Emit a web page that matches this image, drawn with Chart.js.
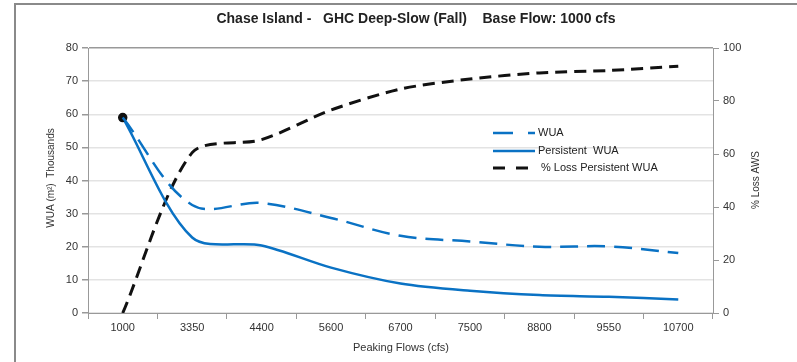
<!DOCTYPE html>
<html>
<head>
<meta charset="utf-8">
<script src="https://cdn.jsdelivr.net/npm/chart.js@4/dist/chart.umd.min.js"></script>
<style>
  html, body { margin: 0; padding: 0; background: #fff; }
  #wrap { position: relative; width: 797px; height: 362px; }
  #frame { position: absolute; left: 14px; top: 3px; right: 0; bottom: 0;
           border-left: 2px solid #8a8a8a; border-top: 2px solid #8a8a8a; }
  canvas { position: absolute; left: 0; top: 0; }
</style>
</head>
<body>
<div id="wrap">
  <div id="frame"></div>
  <canvas id="grafico" width="797" height="362"></canvas>
</div>
<script>
// datos
const flujos = ["1000", "3350", "4400", "5600", "6700", "7500", "8800", "9550", "10700"];
const wua = [59, 32.6, 33.2, 28.7, 23.3, 21.6, 20, 20.1, 18.1];
const wuaPersistente = [59, 22.8, 20.4, 13.7, 8.9, 6.7, 5.4, 4.9, 4.1];
const perdidaPct = [0, 60.5, 65.4, 76.6, 84.5, 88.3, 90.6, 91.5, 93.1];

const azul = "#0a72c4";
const fuente = "'Liberation Sans', Arial, sans-serif";

// titulo, leyenda y titulos de ejes
const textos = {
  id: "textos",
  afterDraw(chart) {
    const ctx = chart.ctx;
    ctx.save();
    ctx.fillStyle = "#222";
    ctx.textBaseline = "middle";
    ctx.textAlign = "center";
    ctx.font = "bold 14px " + fuente;
    ctx.fillText("Chase Island -   GHC Deep-Slow (Fall)    Base Flow: 1000 cfs", 416, 19);

    ctx.font = "11px " + fuente;
    ctx.fillStyle = "#333";
    ctx.fillText("Peaking Flows (cfs)", 401, 348);

    ctx.save();
    ctx.translate(51, 178);
    ctx.rotate(-Math.PI / 2);
    ctx.font = "10px " + fuente;
    ctx.fillText("WUA (m\u00b2)  Thousands", 0, 0);
    ctx.restore();

    ctx.save();
    ctx.translate(756, 180);
    ctx.rotate(-Math.PI / 2);
    ctx.font = "10px " + fuente;
    ctx.fillText("% Loss AWS", 0, 0);
    ctx.restore();

    // leyenda
    const items = [
      { t: "WUA", c: azul, d: [20, 15, 8, 0], y: 133, w: 2.5 },
      { t: "Persistent  WUA", c: azul, d: [], y: 151, w: 2.5 },
      { t: "% Loss Persistent WUA", c: "#111", d: [12, 11], y: 168, w: 3 }
    ];
    items.forEach(it => {
      ctx.beginPath();
      ctx.setLineDash(it.d);
      ctx.strokeStyle = it.c;
      ctx.lineWidth = it.w;
      ctx.moveTo(493, it.y);
      ctx.lineTo(535, it.y);
      ctx.stroke();
      ctx.setLineDash([]);
      ctx.textAlign = "left";
      ctx.font = "11px " + fuente;
      ctx.fillStyle = "#222";
      ctx.fillText(it.t, it.t[0] === "%" ? 541 : 538, it.y);
    });
    ctx.restore();
  }
};

new Chart(document.getElementById("grafico"), {
  type: "line",
  data: {
    labels: flujos,
    datasets: [
      {
        label: "WUA",
        data: wua,
        borderColor: azul,
        borderWidth: 2.5,
        borderDash: [18, 9],
        tension: 0.35,
        pointRadius: 0,
        yAxisID: "y"
      },
      {
        label: "Persistent  WUA",
        data: wuaPersistente,
        borderColor: azul,
        borderWidth: 2.5,
        tension: 0.3,
        pointRadius: [3.5, 0, 0, 0, 0, 0, 0, 0, 0],
        pointBackgroundColor: "#111",
        pointBorderColor: "#111",
        yAxisID: "y"
      },
      {
        label: "% Loss Persistent WUA",
        data: perdidaPct,
        borderColor: "#111",
        borderWidth: 3,
        borderDash: [12, 7],
        tension: 0.28,
        pointRadius: 0,
        yAxisID: "y1"
      }
    ]
  },
  options: {
    responsive: false,
    animation: false,
    layout: { padding: { top: 48, left: 0, right: 0, bottom: 0 } },
    plugins: {
      legend: { display: false },
      tooltip: { enabled: false }
    },
    scales: {
      x: {
        offset: true,
        grid: { offset: true, drawOnChartArea: false, tickLength: 6, tickColor: "#999" },
        border: { color: "#999", width: 1 },
        ticks: { color: "#333", font: { size: 11, family: fuente }, padding: 2, maxRotation: 0 },
        afterFit(s) { s.height = 49; }
      },
      y: {
        position: "left",
        min: 0, max: 80,
        ticks: { stepSize: 10, color: "#333", font: { size: 11, family: fuente }, padding: 4 },
        grid: {
          color: c => c.tick && c.tick.value === 80 ? "#999" : "#e3e3e3",
          lineWidth: 1.5,
          tickLength: 6,
          tickColor: "#999"
        },
        border: { color: "#999", width: 1 },
        afterFit(s) { s.width = 88; }
      },
      y1: {
        position: "right",
        min: 0, max: 100,
        ticks: { stepSize: 20, color: "#333", font: { size: 11, family: fuente }, padding: 4 },
        grid: { drawOnChartArea: false, tickLength: 6, tickColor: "#999" },
        border: { color: "#999", width: 1 },
        afterFit(s) { s.width = 84; }
      }
    }
  },
  plugins: [textos]
});
</script>
</body>
</html>
